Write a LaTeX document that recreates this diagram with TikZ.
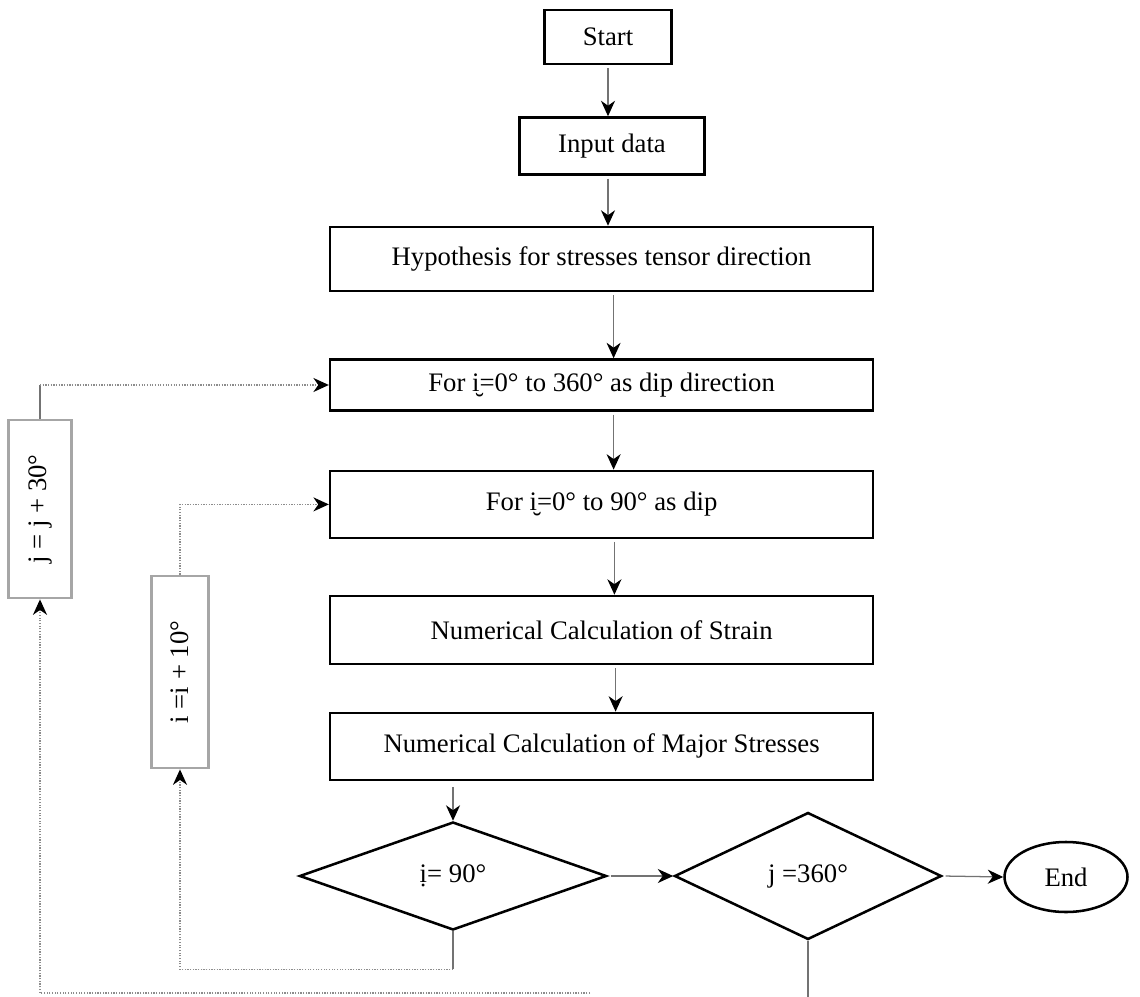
\documentclass[tikz,border=0pt]{standalone}
\usepackage{fontspec}
\setmainfont{Liberation Serif}
\usetikzlibrary{shapes.geometric,arrows.meta}

\begin{document}
\begin{tikzpicture}[font=\fontsize{19}{23}\selectfont,
    box/.style={draw, line width=1.8pt, inner sep=0pt, minimum width=13.575cm, minimum height=1.675cm},
    stepbox/.style={draw=black!35, line width=2pt, inner sep=0pt, rotate=90},
    test/.style={draw, diamond, line width=1.8pt, inner sep=0pt},
    link/.style={draw=black!55, line width=0.9pt},
    flow/.style={link, shorten <=2pt, -{Stealth[black, length=11pt, width=10pt, inset=3.5pt]}},
    loop/.style={draw=black!45, line width=0.9pt, densely dotted, -{Stealth[black, length=11pt, width=10pt, inset=3.5pt]}}]

    \useasboundingbox (0, 0) rectangle (28.5, 24.9);

    \node[box, minimum width=3.175cm, minimum height=1.35cm] (a) at (15.2, 23.975) {Start};
    \node[box, minimum width=4.625cm, minimum height=1.425cm] (b) at (15.3, 21.25) {Input data};
    \node[box, minimum height=1.6cm] (c) at (15.04, 18.425) {Hypothesis for stresses tensor direction};
    \node[box, minimum height=1.275cm] (d) at (15.04, 15.275) {For i̮=0° to 360° as dip direction};
    \node[box] (e) at (15.04, 12.29) {For i̮=0° to 90° as dip};
    \node[box, minimum height=1.7cm] (f) at (15.04, 9.15) {Numerical Calculation of Strain};
    \node[box] (g) at (15.04, 6.24) {Numerical Calculation of Major Stresses};
    \node[test, minimum width=7.675cm, minimum height=2.7cm] (h) at (11.325, 3.0) {ị= 90°};
    \node[test, minimum width=6.675cm, minimum height=3.175cm] (k) at (20.2, 3.0) {j =360°};
    \node[draw, ellipse, line width=1.8pt, inner sep=0pt, minimum width=3.075cm, minimum height=1.75cm] (l) at (26.65, 2.975) {End};
    \node[stepbox, minimum width=4.45cm, minimum height=1.575cm] (m) at (1.0, 12.175) {j = j + 30°};
    \node[stepbox, minimum width=4.8cm, minimum height=1.425cm] (n) at (4.5, 8.1) {i =i + 10°};

    % main flow
    \draw[flow] (a.south) -- (a.south |- b.north);
    \draw[flow] (a.south |- b.south) -- (a.south |- c.north);
    \draw[flow] ([xshift=0.3cm]c.south) -- ([xshift=0.3cm]d.north);
    \draw[flow] ([xshift=0.3cm]d.south) -- ([xshift=0.3cm]e.north);
    \draw[flow] ([xshift=0.32cm]e.south) -- ([xshift=0.32cm]f.north);
    \draw[flow] ([xshift=0.35cm]f.south) -- ([xshift=0.35cm]g.north);
    \draw[flow, shorten <=4pt] (h.north |- g.south) -- (h.north);
    \draw[flow] (h.east) -- (k.west);
    \draw[flow] (k.east) -- (l.west);

    % loops
    \draw[link] (m.east) -- (m.east |- d.west) coordinate (p);
    \draw[loop] (p) -- (d.west);
    \draw[loop] (n.east) |- (e.west);
    \draw[link] (h.south) -- ++(0, -0.95) coordinate (q);
    \draw[loop] (q) -| (n.west);
    \draw[link] (k.south) -- ++(0, -1.6);
    \coordinate (r) at (14.75, 0.075);
    \draw[loop] (r) -| (m.west);

  \end{tikzpicture}
\end{document}
